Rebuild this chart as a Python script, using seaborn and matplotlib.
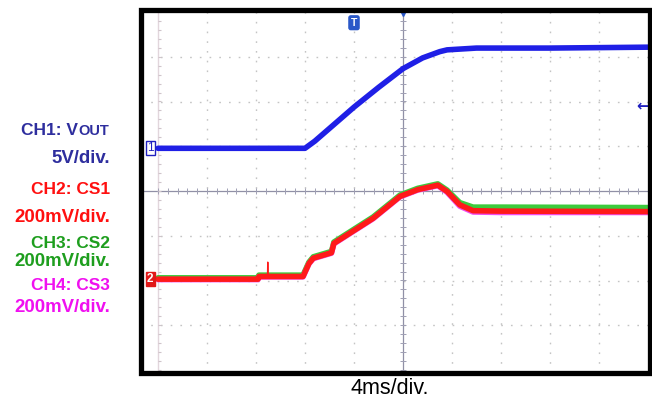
import numpy as np
import pandas as pd
import matplotlib
matplotlib.use("Agg")
import matplotlib.pyplot as plt
from matplotlib.patches import Rectangle
import seaborn as sns

# ---------------- data ----------------
# CH1: VOUT, time in ms, value in volts (5 V/div)
ch1_t = [-20, -8.0, -7.2, -4.0, -2.0, 0.0, 1.6, 3.0, 3.6, 6.0, 12.0, 20.0]
ch1_v = [0.0, 0.0, 0.8, 4.6, 6.8, 8.9, 10.1, 10.8, 11.0, 11.2, 11.2, 11.3]

# CH2/CH3/CH4: current sense, time in ms, value in mV (200 mV/div)
cs_t = [-20, -11.84, -11.76, -8.16, -7.68, -7.32,
        -5.84, -5.64, -2.44, -0.24, 1.2, 2.84, 3.6, 4.64, 5.72, 8.0, 20.0]
ch2_v = [0, 0, 12, 12, 70, 94, 118, 160, 272, 370, 400, 420,
         392, 332, 306, 304, 302]
ch3_v = [6, 6, 18, 18, 76, 100, 124, 166, 278, 376, 406, 426,
         398, 342, 322, 322, 320]
ch4_v = [-2, -2, 10, 10, 68, 92, 116, 158, 270, 368, 398, 418,
         388, 326, 300, 298, 298]
# short glitch on CH2 (thin spike)
spike_t = [-11.06, -11.04, -11.02]
spike_v = [12, 76, 12]

# scope settings
CH1_VPD = 5.0      # V/div
CS_VPD = 200.0     # mV/div
CH1_POS = 0.954    # ground marker position (div)
CS_POS = -1.97     # ground marker position (div)
MS_PER_DIV = 4.0

label_lines = ["5V/div.", "CH2: CS1", "200mV/div.", "CH3: CS2", "200mV/div.",
               "CH4: CS3", "200mV/div."]
label_colors = ["#2E2E9E", "#FF1010", "#FF1010", "#1E9E1E", "#1E9E1E",
                "#F010F0", "#F010F0"]

# ---------------- figure ----------------
sns.set_theme(style="white")
plt.rcParams["font.family"] = ["Liberation Sans", "DejaVu Sans"]

W, H = 652, 398
fig = plt.figure(figsize=(W / 100, H / 100), dpi=100)
fig.patch.set_facecolor("white")

L, R, T, B = 140.75, 649.5, 9.5, 373.3
ax = fig.add_axes([L / W, 1 - B / H, (R - L) / W, (B - T) / H])
ax.set_facecolor("white")
px_per_div_x = 49.0
px_per_div_y = 44.75
cx, cy = 403.0, 191.0
xl = ((L - cx) / px_per_div_x) * MS_PER_DIV
xr = ((R - cx) / px_per_div_x) * MS_PER_DIV
yt = (cy - T) / px_per_div_y
yb = (cy - B) / px_per_div_y
for s in ax.spines.values():
    s.set_visible(False)

# graticule
grid_col = "#c4c4c4"
for i in range(-4, 5):
    if i == 0:
        continue
    ax.axvline(i * MS_PER_DIV, color=grid_col, lw=1.0, ls=(0, (1.2, 5.8)), zorder=1)
for j in range(-3, 4):
    if j == 0:
        continue
    ax.axhline(j, color=grid_col, lw=1.0, ls=(0, (1.2, 5.8)), zorder=1)

axis_col = "#9090a6"
ax.axhline(0, color=axis_col, lw=0.9, zorder=1)
ax.axvline(0, color=axis_col, lw=0.9, zorder=1)
ax.axvline(-5 * MS_PER_DIV, color="#e2d6dc", lw=1.0, zorder=1)
# minor ticks along centre lines / left edge
mx = np.arange(-5, 5.01, 0.2) * MS_PER_DIV
my = np.arange(-4, 4.01, 0.2)
tx = 0.06 * MS_PER_DIV
ty = 0.06
ax.vlines(mx, -ty, ty, color="#a0a0b4", lw=0.7, zorder=1)
ax.hlines(my, -tx, tx, color="#a0a0b4", lw=0.7, zorder=1)
ax.hlines(my, -5 * MS_PER_DIV, -5 * MS_PER_DIV + tx, color="#cfc4ca", lw=0.8, zorder=1)

# traces
df1 = pd.DataFrame({"t": ch1_t, "y": np.array(ch1_v) / CH1_VPD + CH1_POS})
dfc = pd.DataFrame({"t": cs_t,
                    "ch2": np.array(ch2_v) / CS_VPD + CS_POS,
                    "ch3": np.array(ch3_v) / CS_VPD + CS_POS,
                    "ch4": np.array(ch4_v) / CS_VPD + CS_POS})
dfs = pd.DataFrame({"t": spike_t, "y": np.array(spike_v) / CS_VPD + CS_POS})
lw = 4.0
sns.lineplot(data=dfc, x="t", y="ch3", ax=ax, color="#3CCB3C", lw=lw,
             estimator=None, sort=False, zorder=3)
sns.lineplot(data=dfc, x="t", y="ch4", ax=ax, color="#F04CF0", lw=lw,
             estimator=None, sort=False, zorder=3)
sns.lineplot(data=dfc, x="t", y="ch2", ax=ax, color="#FF1A1A", lw=lw,
             estimator=None, sort=False, zorder=4)
sns.lineplot(data=dfs, x="t", y="y", ax=ax, color="#FF1A1A", lw=1.0,
             estimator=None, sort=False, zorder=4)
sns.lineplot(data=df1, x="t", y="y", ax=ax, color="#1F1FE6", lw=lw,
             estimator=None, sort=False, zorder=4)
ax.set_xlabel("")
ax.set_ylabel("")
ax.set_xticks([])
ax.set_yticks([])
ax.set_xlim(xl, xr)
ax.set_ylim(yb, yt)

# channel markers
mk_x = -5.16 * MS_PER_DIV
ax.text(mk_x, CH1_POS, "1", color="#2020C0", fontsize=8.5, ha="center", va="center",
        zorder=6, bbox=dict(boxstyle="square,pad=0.1", fc="white", ec="#2020C0", lw=1.0))
ax.text(mk_x, CS_POS, "2", color="white", fontsize=8.5, fontweight="bold", ha="center",
        va="center", zorder=6,
        bbox=dict(boxstyle="square,pad=0.1", fc="#E01818", ec="#E01818", lw=1.0))
ax.text(-1.0 * MS_PER_DIV, 3.76, "T", color="white", fontsize=7.5, fontweight="bold",
        ha="center", va="center", zorder=6,
        bbox=dict(boxstyle="round,pad=0.18", fc="#2A58C8", ec="#2A58C8"))
ax.plot([0], [3.98], marker="v", ms=5, color="#2A58C8", zorder=6, clip_on=False)
ax.text(4.9 * MS_PER_DIV, 1.90, "←", color="#2020C0", fontsize=11, ha="center",
        va="center", zorder=6, family="DejaVu Sans", fontweight="bold")

# black frame
ax.add_patch(Rectangle((0, 0), 1, 1, transform=ax.transAxes, fill=False,
                       ec="black", lw=3.8, zorder=10, clip_on=False))

# left annotations (pixel positions converted to figure fraction)
def fx(px):
    return px / W


def fy(py):
    return 1 - py / H


xr_txt = 110
fig.text(fx(78), fy(134.7), "CH1: V", color="#2E2E9E", fontsize=12.5,
         fontweight="bold", ha="right", va="baseline")
fig.text(fx(78), fy(134.7), "OUT", color="#2E2E9E", fontsize=10.5,
         fontweight="bold", ha="left", va="baseline")
ys = [158, 190, 217, 243, 262, 285, 308]
sizes = [13.4, 12.5, 13.4, 12.5, 13.4, 12.5, 13.4]
for txt, col, y, sz in zip(label_lines, label_colors, ys, sizes):
    fig.text(fx(xr_txt), fy(y), txt, color=col, fontsize=sz, fontweight="bold",
             ha="right", va="center")

fig.text(fx(389.5), fy(388), "4ms/div.", color="black", fontsize=15.5,
         ha="center", va="center")

fig.savefig("out.png", dpi=100, facecolor="white")
